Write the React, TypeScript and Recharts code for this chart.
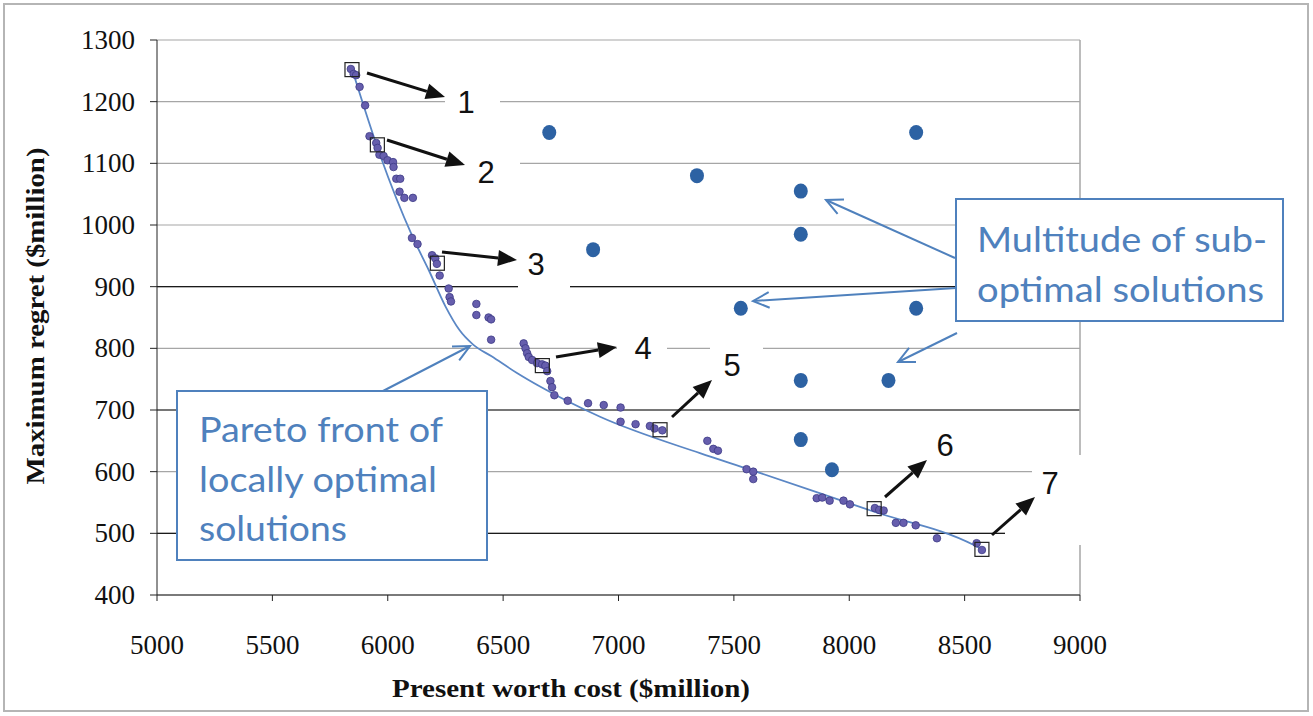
import React from "react";
import {
  ComposedChart,
  Scatter,
  Line,
  XAxis,
  YAxis,
  CartesianGrid,
  ReferenceLine,
} from "recharts";

// Pareto-front solutions (present worth cost, maximum regret), $million
const paretoCost = [
  5840, 5852, 5863, 5878, 5902, 5921, 5950, 5956, 5964, 5982, 5999, 6023, 6025,
  6037, 6054, 6051, 6072, 6109, 6105, 6129, 6192, 6206, 6213, 6225, 6264, 6268,
  6274, 6384, 6384, 6437, 6448, 6448, 6589, 6597, 6604, 6611, 6626, 6647, 6669,
  6683, 6691, 6705, 6712, 6722, 6780, 6868, 6936, 7009, 7009, 7074, 7136, 7156,
  7190, 7385, 7411, 7431, 7555, 7584, 7584, 7859, 7883, 7915, 7975, 8003, 8111,
  8130, 8149, 8202, 8235, 8288, 8380, 8552, 8575,
];
const paretoRegret = [
  1253, 1245, 1243, 1224, 1194, 1144, 1133, 1125, 1114, 1112, 1105, 1102, 1094,
  1075, 1075, 1054, 1044, 1044, 979, 969, 951, 946, 937, 918, 897, 883, 876,
  872, 854, 850, 847, 814, 808, 800, 792, 786, 781, 776, 774, 772, 763, 747,
  737, 724, 715, 711, 708, 704, 681, 677, 674, 670, 667, 650, 637, 634, 604,
  600, 588, 557, 558, 553, 553, 547, 541, 538, 537, 517, 517, 513, 492, 484,
  473,
];

// highlighted solutions 1..7
const pickedCost = [5845, 5955, 6215, 6670, 7180, 8108, 8575];
const pickedRegret = [1252, 1130, 938, 772, 668, 540, 474];

// sub-optimal solutions
const subCost = [6700, 8290, 7340, 7790, 7790, 6890, 7530, 8290, 7790, 8170, 7790, 7925];
const subRegret = [1150, 1150, 1080, 1055, 985, 960, 865, 865, 748, 748, 652, 603];

// fitted pareto front curve
const frontCost = [5845, 5967, 6105, 6180, 6250, 6310, 6370, 6450, 6560, 6660, 6920, 7353, 7573, 8108, 8540, 8575];
const frontRegret = [1253, 1113, 983, 925, 868, 830, 806, 787, 760, 738, 689, 630, 603, 535, 481, 474];

const xTicks = [5000, 5500, 6000, 6500, 7000, 7500, 8000, 8500, 9000];
const yTicks = [400, 500, 600, 700, 800, 900, 1000, 1100, 1200, 1300];
const darkGrid = [500, 700, 900];

const toPts = (xs: number[], ys: number[]) => xs.map((x, i) => ({ x, y: ys[i] }));

const BLUE = "#4f81bd";
const serif = "Liberation Serif";
const sans = "Lato";

function XTick({ x, y, payload }: any) {
  return (
    <text x={x} y={y + 51} textAnchor="middle" fontFamily={serif} fontSize={27} fill="#111">
      {payload.value}
    </text>
  );
}

function YTick({ x, y, payload }: any) {
  return (
    <text x={x - 13} y={y + 9} textAnchor="end" fontFamily={serif} fontSize={27} fill="#111">
      {payload.value}
    </text>
  );
}

function BlackArrow({ x1, y1, x2, y2 }: { x1: number; y1: number; x2: number; y2: number }) {
  const dx = x2 - x1;
  const dy = y2 - y1;
  const len = Math.hypot(dx, dy);
  const ux = dx / len;
  const uy = dy / len;
  const hl = 19;
  const hw = 8;
  const bx = x2 - ux * hl;
  const by = y2 - uy * hl;
  return (
    <g>
      <line x1={x1} y1={y1} x2={bx} y2={by} stroke="#111" strokeWidth={3} />
      <polygon
        points={`${x2},${y2} ${bx - uy * hw},${by + ux * hw} ${bx + uy * hw},${by - ux * hw}`}
        fill="#111"
      />
    </g>
  );
}

function BlueArrow({ x1, y1, x2, y2 }: { x1: number; y1: number; x2: number; y2: number }) {
  const a = Math.atan2(y1 - y2, x1 - x2);
  const hl = 18;
  const sp = 0.45;
  return (
    <g stroke={BLUE} strokeWidth={2} fill="none">
      <line x1={x1} y1={y1} x2={x2} y2={y2} />
      <polyline
        points={`${x2 + hl * Math.cos(a + sp)},${y2 + hl * Math.sin(a + sp)} ${x2},${y2} ${x2 + hl * Math.cos(a - sp)},${y2 + hl * Math.sin(a - sp)}`}
      />
    </g>
  );
}

function Num({ x, y, t }: { x: number; y: number; t: string }) {
  return (
    <text
      x={x}
      y={y}
      textAnchor="middle"
      dominantBaseline="central"
      fontFamily="Liberation Sans"
      fontSize={31}
      fill="#111"
    >
      {t}
    </text>
  );
}

export default function App() {
  const pareto = toPts(paretoCost, paretoRegret);
  const picked = toPts(pickedCost, pickedRegret);
  const sub = toPts(subCost, subRegret);
  const front = toPts(frontCost, frontRegret);

  return (
    <div style={{ position: "absolute", left: 0, top: 0, width: 1313, height: 716, background: "#fff" }}>
      <ComposedChart
        width={1313}
        height={716}
        margin={{ top: 40, right: 233, bottom: 61, left: 77 }}
      >
        <CartesianGrid vertical={false} stroke="#a6a6a6" strokeWidth={1.2} />
        <XAxis
          type="number"
          dataKey="x"
          domain={[5000, 9000]}
          ticks={xTicks}
          height={60}
          tickSize={6}
          axisLine={{ stroke: "#222" }}
          tickLine={{ stroke: "#222" }}
          tick={<XTick />}
          allowDataOverflow
        />
        <YAxis
          type="number"
          dataKey="y"
          domain={[400, 1300]}
          ticks={yTicks}
          width={80}
          tickSize={7}
          axisLine={{ stroke: "#222" }}
          tickLine={{ stroke: "#222" }}
          tick={<YTick />}
          allowDataOverflow
        />
        {darkGrid.map((v) => (
          <ReferenceLine key={v} y={v} stroke="#1a1a1a" strokeWidth={1.2} />
        ))}
        <ReferenceLine x={9000} stroke="#a6a6a6" strokeWidth={1.5} />
        <Line
          data={front}
          dataKey="y"
          type="monotone"
          stroke="#5b87c5"
          strokeWidth={1.8}
          dot={false}
          activeDot={false}
          isAnimationActive={false}
        />
        <Scatter
          data={sub}
          isAnimationActive={false}
          shape={(p: any) => <ellipse cx={p.cx} cy={p.cy} rx={7} ry={7.5} fill="#2d62a3" />}
        />
        <Scatter
          data={pareto}
          isAnimationActive={false}
          shape={(p: any) => (
            <circle cx={p.cx} cy={p.cy} r={3.8} fill="#665ead" stroke="#3c3a85" strokeWidth={0.8} />
          )}
        />
        <Scatter
          data={picked}
          isAnimationActive={false}
          shape={(p: any) => (
            <rect x={p.cx - 7} y={p.cy - 7} width={14} height={14} fill="none" stroke="#222" strokeWidth={1.2} />
          )}
        />
      </ComposedChart>

      <svg
        width={1313}
        height={716}
        style={{ position: "absolute", left: 0, top: 0, pointerEvents: "none" }}
      >
        <rect x={4} y={4} width={1304} height={707} fill="none" stroke="#b5b5b5" strokeWidth={2} />

        {/* white backing behind numbered labels */}
        <rect x={445} y={82} width={55} height={40} fill="#fff" />
        <rect x={463} y={150} width={57} height={42} fill="#fff" />
        <rect x={518} y={244} width={52} height={50} fill="#fff" />
        <rect x={617} y={328} width={50} height={42} fill="#fff" />
        <rect x={710} y={340} width={53} height={46} fill="#fff" />
        <rect x={1032} y={455} width={56} height={90} fill="#fff" />
        <rect x={1005} y={515} width={30} height={30} fill="#fff" />

        <BlackArrow x1={367} y1={73} x2={445} y2={97} />
        <BlackArrow x1={387} y1={140} x2={465} y2={165} />
        <BlackArrow x1={442} y1={252} x2={517} y2={260} />
        <BlackArrow x1={556} y1={357} x2={617} y2={347} />
        <BlackArrow x1={672} y1={417} x2={712} y2={380} />
        <BlackArrow x1={885} y1={497} x2={927} y2={460} />
        <BlackArrow x1={992} y1={535} x2={1035} y2={497} />

        <Num x={466} y={102} t="1" />
        <Num x={486} y={172} t="2" />
        <Num x={536} y={264} t="3" />
        <Num x={643} y={348} t="4" />
        <Num x={732} y={365} t="5" />
        <Num x={945} y={445} t="6" />
        <Num x={1050} y={483} t="7" />

        {/* Pareto callout */}
        <BlueArrow x1={383} y1={391} x2={470} y2={346} />
        <rect x={177} y={391} width={310} height={169} fill="#fff" stroke={BLUE} strokeWidth={2} />
        <g fontFamily={sans} fontSize={34} fill={BLUE} dominantBaseline="central">
          <text x={199} y={428} textLength={244} lengthAdjust="spacingAndGlyphs">Pareto front of</text>
          <text x={199} y={478} textLength={238} lengthAdjust="spacingAndGlyphs">locally optimal</text>
          <text x={199} y={527} textLength={148} lengthAdjust="spacingAndGlyphs">solutions</text>
        </g>

        {/* sub-optimal callout */}
        <BlueArrow x1={955} y1={258} x2={826} y2={200} />
        <BlueArrow x1={956} y1={288} x2={753} y2={301} />
        <BlueArrow x1={957} y1={333} x2={898} y2={362} />
        <rect x={956} y={199} width={327} height={122} fill="#fff" stroke={BLUE} strokeWidth={2} />
        <g fontFamily={sans} fontSize={34} fill={BLUE} dominantBaseline="central">
          <text x={977} y={238} textLength={290} lengthAdjust="spacingAndGlyphs">Multitude of sub-</text>
          <text x={977} y={288} textLength={287} lengthAdjust="spacingAndGlyphs">optimal solutions</text>
        </g>

        {/* axis titles */}
        <text
          x={571}
          y={688}
          textAnchor="middle"
          dominantBaseline="central"
          fontFamily={serif}
          fontWeight="bold"
          fontSize={25}
          fill="#111"
          textLength={358}
          lengthAdjust="spacingAndGlyphs"
        >
          Present worth cost ($million)
        </text>
        <text
          x={0}
          y={0}
          transform="translate(35,316) rotate(-90)"
          textAnchor="middle"
          dominantBaseline="central"
          fontFamily={serif}
          fontWeight="bold"
          fontSize={25}
          fill="#111"
          textLength={337}
          lengthAdjust="spacingAndGlyphs"
        >
          Maximum regret ($million)
        </text>
      </svg>
    </div>
  );
}
